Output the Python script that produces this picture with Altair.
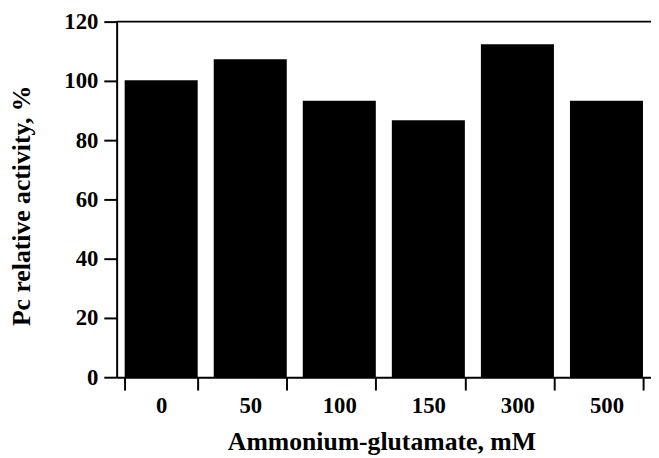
import altair as alt
import pandas as pd

categories = ["0", "50", "100", "150", "300", "500"]
values = [100.2, 107.3, 93.3, 86.7, 112.4, 93.3]
y_ticks = [0, 20, 40, 60, 80, 100, 120]

df = pd.DataFrame({"conc": categories, "activity": values})

FONT = "Liberation Serif"

y_axis = alt.Axis(
    title="Pc relative activity, %",
    values=y_ticks,
    grid=False,
    tickSize=13,
    tickWidth=2,
    tickColor="black",
    domainColor="black",
    domainWidth=2,
    labelFont=FONT,
    labelFontSize=23,
    labelFontWeight="bold",
    labelColor="black",
    labelPadding=6,
    titleFont=FONT,
    titleFontSize=26,
    titleFontWeight="bold",
    titleColor="black",
    titleBaseline="middle",
    titleAlign="center",
    titleAngle=-90,
    titleX=-96,
    titleY=186,
)

bars = alt.Chart(df).mark_bar(color="black").encode(
    x=alt.X(
        "conc:N",
        sort=categories,
        scale=alt.Scale(paddingInner=0.18, paddingOuter=0.09),
        axis=alt.Axis(
            title="Ammonium-glutamate, mM",
            labelAngle=0,
            tickBand="extent",
            tickSize=13,
            tickWidth=2,
            tickColor="black",
            domainColor="black",
            domainWidth=2,
            labelFont=FONT,
            labelFontSize=23,
            labelFontWeight="bold",
            labelColor="black",
            labelPadding=5,
            titleFont=FONT,
            titleFontSize=26,
            titleFontWeight="bold",
            titleColor="black",
            titleBaseline="alphabetic",
            titleX=268,
            titleY=73,
        ),
    ),
    y=alt.Y(
        "activity:Q",
        scale=alt.Scale(domain=[0, 120], nice=False),
        axis=y_axis,
    ),
)

top_rule = alt.Chart(alt.Data(values=[{}])).mark_rule(color="black", strokeWidth=2).encode(
    y=alt.datum(120)
)

chart = alt.layer(bars, top_rule).properties(
    width=541,
    height=360,
    padding={"left": 110, "top": 11, "right": 0, "bottom": 79},
    autosize=alt.AutoSizeParams(type="none"),
).configure_view(stroke=None)

chart.save("out.html", embed_options={"renderer": "svg", "actions": False})
